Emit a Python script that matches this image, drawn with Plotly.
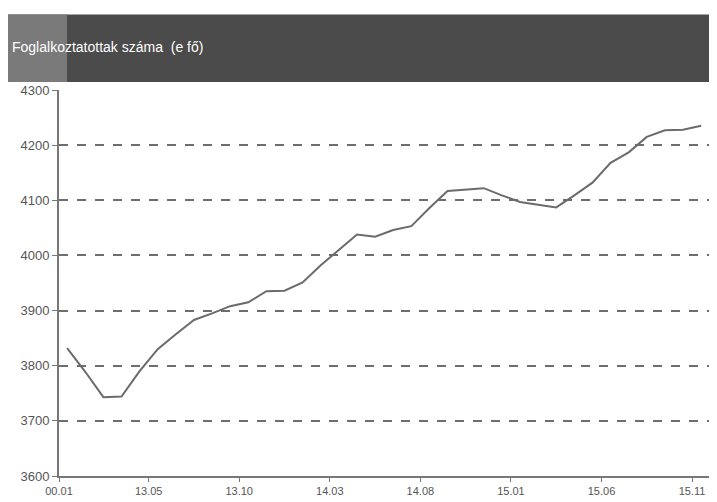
import plotly.graph_objects as go

# havi adatok, 36 hónap
honap_index = list(range(36))
foglalkoztatottak = [3832, 3789, 3743, 3744, 3790, 3830, 3857, 3883, 3895, 3908,
                     3915, 3935, 3936, 3951, 3982, 4010, 4038, 4034, 4046, 4053,
                     4086, 4117, 4120, 4122, 4109, 4097, 4092, 4087, 4109, 4132,
                     4168, 4187, 4215, 4227, 4228, 4235]

tick_pos = [-0.45, 4.5, 9.5, 14.5, 19.5, 24.5, 29.5, 34.5]
tick_labels = ['00.01', '13.05', '13.10', '14.03', '14.08', '15.01', '15.06', '15.11']
y_ticks = [3600, 3700, 3800, 3900, 4000, 4100, 4200, 4300]

# the page puts the figure 8px in from the top-left corner
OFF = 8
W, H = 709, 494
L, R, T, B = 51, 5, 82, 24
pw, ph = W - L - R, H - T - B


def px(x):
    # screen x -> paper x
    return (x - OFF - L) / pw


def py(y):
    # screen y -> paper y
    return (H - B - (y - OFF)) / ph


fig = go.Figure()

fig.add_trace(go.Scatter(
    x=honap_index,
    y=foglalkoztatottak,
    mode='lines',
    line=dict(color='#6b6b6b', width=2),
    showlegend=False
))

# title band
fig.add_shape(type='rect', xref='paper', yref='paper',
              x0=px(8), x1=px(717), y0=py(82), y1=py(14),
              fillcolor='#4b4b4b', line_width=0, layer='below')
fig.add_shape(type='rect', xref='paper', yref='paper',
              x0=px(8), x1=px(67), y0=py(82), y1=py(14),
              fillcolor='#7a7a7a', line_width=0, layer='below')

fig.add_annotation(text='Foglalkoztatottak száma  (e fő)', xref='paper', yref='paper',
                   x=px(10), y=py(47), xanchor='left', yanchor='middle',
                   showarrow=False, font=dict(color='white', size=14, family='Liberation Sans'))

fig.update_xaxes(
    range=[-0.45, 35.6],
    tickvals=tick_pos,
    ticktext=tick_labels,
    showgrid=False,
    showline=True, linecolor='#777777', linewidth=2,
    ticks='outside', ticklen=4, tickcolor='#777777',
    tickfont=dict(size=11, color='#555555'),
    zeroline=False
)
fig.update_yaxes(
    range=[3600, 4300],
    tickvals=y_ticks,
    showgrid=True, gridcolor='#6e6e6e', gridwidth=1.5, griddash='dash',
    showline=True, linecolor='#777777', linewidth=2,
    ticks='outside', ticklen=5, tickcolor='#777777',
    tickfont=dict(size=13, color='#555555'),
    zeroline=False
)

fig.update_layout(
    width=W, height=H,
    margin=dict(l=L, r=R, t=T, b=B),
    plot_bgcolor='white', paper_bgcolor='white',
    font=dict(family='Liberation Sans', color='#555555')
)

fig.write_html('out.html')
